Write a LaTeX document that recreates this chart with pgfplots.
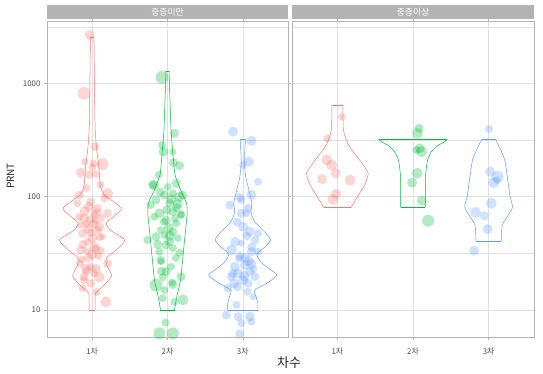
\documentclass[border=0pt]{standalone}
\usepackage{pgfplots}
\pgfplotsset{compat=1.18}
\usepackage{pgfplotstable}
\usepackage{fontspec}
\setmainfont{Noto Sans CJK KR}
\definecolor{pred}{HTML}{F8766D}
\definecolor{pgreen}{HTML}{00BA38}
\definecolor{pblue}{HTML}{619CFF}
\definecolor{grey70}{HTML}{B3B3B3}
\definecolor{grey87}{HTML}{E0E0E0}
\definecolor{grey30}{HTML}{4D4D4D}

% ---- jittered points (x = jittered category position, v = PRNT, r = point radius) ----
\pgfplotstableread{
x v r
0.968 2673 5
0.893 818 6.5
1.035 276 4.5
0.901 204 3.5
1.137 194 6
1.017 197 4
1.004 182 4
0.848 163 5
0.960 156 4.5
1.048 158 4
1.204 107 5.5
0.827 103.5 4.5
1.160 96.8 4
0.804 87.5 4
0.960 81.7 5
1.071 79.1 4.5
1.204 71.3 4.5
0.827 66.5 4
0.893 64.4 5
0.981 63 4.5
1.027 70 4
0.848 56.2 3.5
1.093 54.3 5
1.071 50.8 4.5
0.871 47.5 4.5
0.981 48 4
1.137 44.4 3.5
0.937 40.1 4
0.848 33.9 4.5
1.048 34.5 4.5
1.115 33.5 4
1.027 36.2 5
0.937 33 4
0.840 25.8 4
1.204 25.8 4.5
0.915 23.3 5
0.981 24.1 4
0.893 19.7 4.5
1.027 21.1 4
1.093 19.5 5.5
0.981 17.2 4.5
0.893 18.4 4
1.181 11.8 5.5
1.112 127 4
0.924 119 4
1.044 62.2 4
0.924 57.4 4
1.004 43.2 5
1.084 30 4
0.951 28.8 4.5
0.871 15.6 4
1.057 14.4 4
1.060 72 4.5
0.900 75 5
1.020 58 4.5
0.950 52 5
1.100 44 4
0.880 38 4.5
1.000 31 5
0.930 22 4.5
1.050 23 5
0.860 28 4
1.120 65 4
0.980 90 4.5
}\redL
\pgfplotstableread{
x v r
1.928 1132 6.5
2.093 363 4.5
1.928 286 4
1.947 250 5
2.071 248 3.5
2.080 200 4.5
2.160 188 4.5
1.884 156 4
1.804 127 4.5
2.004 122 4
2.115 131 4.5
1.960 103.5 4.5
2.071 107 4
2.160 100 5
1.848 93.6 4.5
2.027 87.5 4.5
2.137 86 5
1.893 71.3 5
2.071 73.8 4.5
2.181 70 4
1.827 66.5 4
1.981 62.2 4.5
2.115 58.2 4
2.071 49.1 4.5
1.848 44.4 4.5
1.960 45.9 4
2.137 43.0 4
2.027 40.1 4.5
1.981 37.5 4.5
2.071 35.1 4
1.893 32.7 4
2.160 32 4
1.915 26.7 3.5
2.048 24.1 4
1.981 21.8 4.5
2.181 19.7 4.5
1.937 19.5 4
1.848 16.6 6.5
2.071 16.8 4.5
1.960 15.0 4
2.204 12.3 5.5
1.937 12.7 4
2.093 11.8 4
1.973 7.73 4
1.893 6.22 6
2.071 6.22 6
1.821 127 5
1.733 41.5 4
2.200 103.5 4.5
2.177 68.9 4
1.777 84.5 4
1.911 27.6 4.5
2.111 28.8 4
2.017 53.0 5
1.911 50.8 4
2.050 95 5
1.900 110 4.5
2.120 80 4.5
1.950 60 4
2.030 45 5
1.870 38 4.5
2.100 64 4
1.990 76 4.5
1.920 22 4.5
2.060 17.5 4
}\greenL
\pgfplotstableread{
x v r
2.871 375 5
3.115 312 5
3.004 190 4
3.080 204 5
3.204 136 4
3.115 103.5 5
2.960 98.9 4.5
2.827 84.5 4.5
2.981 93.6 4
3.071 79.1 4.5
2.981 71.3 4.5
3.004 54.3 5
3.093 49.1 5
3.204 47.5 4
2.848 33.9 5.5
3.115 32.7 4.5
2.981 38.8 3.5
2.893 24.1 5
3.027 24.9 5
3.115 25.5 5
3.093 21.8 4.5
2.937 21.1 5
2.848 19.7 4.5
3.160 19.7 4.5
3.004 18.4 5
3.071 17.2 4.5
2.804 15.6 4.5
3.137 13.1 3.5
2.915 11.1 4
2.781 9.03 4.5
2.937 8.73 4.5
3.093 8.73 5
2.981 7.64 4
3.115 7.89 4
2.960 6.14 4.5
3.200 32.7 4
2.888 17.2 5
3.044 71.8 4
2.924 59.8 4.5
3.164 41.5 4.5
3.031 28.8 5
2.951 28.5 4
3.050 45 4.5
2.900 40 5
3.120 36 4.5
2.960 30 4.5
3.080 27 5
2.870 21 4.5
3.020 20 5
3.140 23 4
2.930 16 4.5
3.060 14.5 4
}\blueL
\pgfplotstableread{
x v r
1.059 508 4
0.867 327 4
0.859 211 5.5
0.925 190 5.5
0.979 161 5
0.800 143 5
1.169 140 5.5
0.983 106 5
0.943 94.8 5.5
}\redR
\pgfplotstableread{
x v r
2.080 402 4.5
2.059 363 5.5
2.089 267 5
2.045 258 4
2.112 250 5.5
2.053 161 5.5
1.987 133 5
2.116 92.3 5
2.200 61.4 6
}\greenR
\pgfplotstableread{
x v r
3.005 396 4
3.023 166 5
3.120 150 6
3.067 133 5.5
3.112 140 4
3.036 87.5 5.5
2.827 72.8 5.5
2.943 67.9 4.5
2.987 51.9 5
2.809 33.4 5
}\blueR

% ---- violin outlines (v = PRNT, w = half width in category units) ----
\pgfplotstableread{
v w
2553 0.023
1611 0.027
713 0.033
388 0.040
258 0.060
183 0.089
127 0.107
104 0.160
79.4 0.387
67.6 0.293
58.6 0.187
50.8 0.240
41.5 0.433
33.9 0.320
28.8 0.187
24.4 0.200
20.0 0.260
16.6 0.160
14.1 0.047
12.2 0.040
10 0.040
}\vRedL
\pgfplotstableread{
v w
1285 0.020
713 0.033
388 0.047
233 0.073
156 0.100
115 0.173
87.9 0.253
68.9 0.260
45.9 0.233
30.5 0.207
18.4 0.173
12.8 0.120
10 0.093
}\vGreenL
\pgfplotstableread{
v w
323 0.036
258 0.027
198 0.020
149 0.040
115 0.080
87.9 0.120
73.3 0.107
59.8 0.160
48.8 0.293
41.5 0.369
36.0 0.293
31.2 0.187
26.5 0.240
22.5 0.373
20.4 0.453
17.7 0.347
15.0 0.160
13.3 0.173
11.5 0.200
10 0.200
}\vBlueL
\pgfplotstableread{
v w
641 0.073
388 0.080
286 0.147
211 0.293
162 0.407
127 0.360
103.5 0.280
81.1 0.183
}\vRedR
\pgfplotstableread{
v w
321 0.453
304 0.413
281 0.320
248 0.240
211 0.193
156 0.167
81.1 0.163
}\vGreenR
\pgfplotstableread{
v w
321 0.093
258 0.160
211 0.213
140 0.253
103.5 0.280
81.1 0.316
67.6 0.253
56.2 0.180
40.6 0.167
}\vBlueR

\newcommand{\violin}[3]{% center, table, colour
  \addplot[#3, line width=0.5pt, smooth, tension=0.35] table[x expr=#1+\thisrow{w}, y=v]{#2};
  \addplot[#3, line width=0.5pt, smooth, tension=0.35] table[x expr=#1-\thisrow{w}, y=v]{#2};
}
\newcommand{\vcap}[4]{% colour, v, left x, right x
  \addplot[#1, line width=0.5pt] coordinates {(#3,#2) (#4,#2)};
}
\newcommand{\pts}[2]{% colour, table
  \addplot[scatter, only marks, mark=*,
    point meta={\thisrow{r}},
    visualization depends on={\thisrow{r} \as \myrad},
    scatter/@pre marker code/.code={\scope[mark size=\myrad, fill=#1, fill opacity=0.3, draw opacity=0]},
    scatter/@post marker code/.code={\endscope}]
    table[x=x, y=v] {#2};
}

\begin{document}
\begin{tikzpicture}[x=1pt,y=1pt]
\useasboundingbox (0,0) rectangle (543,374);
\begin{axis}[at={(47pt,37pt)}, anchor=south west,
    scale only axis, width=241pt, height=316pt,
    ymode=log, ymin=5.78, ymax=3554, xmin=0.4, xmax=3.6,
    xtick={1,2,3}, xticklabels={1차,2차,3차},
    ytick={10,100,1000}, yticklabels={10,100,1000},
    minor ytick={31.62,316.2,3162},
    grid=both,
    major grid style={grey87, line width=0.5pt},
    minor grid style={grey87, line width=0.4pt},
    axis line style={grey70, line width=0.8pt},
    tick style={grey70, line width=0.5pt},
    tick align=outside, major tick length=3pt, minor tick length=0pt,
    tick label style={font=\fontsize{7.9}{9}\selectfont, text=grey30},
    xticklabel style={yshift=-4.5pt}]
  \violin{1}{\vRedL}{pred}
  \vcap{pred}{2553}{0.977}{1.023}
  \vcap{pred}{10}{0.96}{1.04}
  \violin{2}{\vGreenL}{pgreen}
  \vcap{pgreen}{1285}{1.98}{2.02}
  \vcap{pgreen}{10}{1.907}{2.093}
  \violin{3}{\vBlueL}{pblue}
  \vcap{pblue}{323}{2.964}{3.036}
  \vcap{pblue}{10}{2.8}{3.2}
  \pts{pred}{\redL}
  \pts{pgreen}{\greenL}
  \pts{pblue}{\blueL}
\end{axis}
\begin{axis}[at={(292pt,37pt)}, anchor=south west,
    scale only axis, width=242pt, height=316pt,
    ymode=log, ymin=5.78, ymax=3554, xmin=0.4, xmax=3.6,
    xtick={1,2,3}, xticklabels={1차,2차,3차},
    ytick={10,100,1000}, yticklabels={},
    minor ytick={31.62,316.2,3162},
    grid=both,
    major grid style={grey87, line width=0.5pt},
    minor grid style={grey87, line width=0.4pt},
    axis line style={grey70, line width=0.8pt},
    xtick style={grey70, line width=0.5pt}, ytick style={draw=none},
    tick align=outside, major tick length=3pt, minor tick length=0pt,
    tick label style={font=\fontsize{7.9}{9}\selectfont, text=grey30},
    xticklabel style={yshift=-4.5pt}]
  \violin{1}{\vRedR}{pred}
  \vcap{pred}{641}{0.927}{1.073}
  \vcap{pred}{81.1}{0.817}{1.183}
  \violin{2}{\vGreenR}{pgreen}
  \vcap{pgreen}{321}{1.547}{2.453}
  \vcap{pgreen}{81.1}{1.837}{2.163}
  \violin{3}{\vBlueR}{pblue}
  \vcap{pblue}{321}{2.907}{3.093}
  \vcap{pblue}{40.6}{2.833}{3.167}
  \pts{pred}{\redR}
  \pts{pgreen}{\greenR}
  \pts{pblue}{\blueR}
\end{axis}
% facet strips
\fill[grey70] (47,354.5) rectangle (288,369);
\fill[grey70] (292,354.5) rectangle (534,369);
\node[text=white, font=\fontsize{8.8}{9}\selectfont] at (167.5,361.7) {중증미만};
\node[text=white, font=\fontsize{8.8}{9}\selectfont] at (413,361.7) {중증이상};
% axis titles
\node[rotate=90, font=\fontsize{10}{12}\selectfont, text=black!85] at (10.5,198) {PRNT};
\node[font=\fontsize{13}{14}\selectfont, text=black!85] at (289,11.7) {차수};
\end{tikzpicture}
\end{document}
